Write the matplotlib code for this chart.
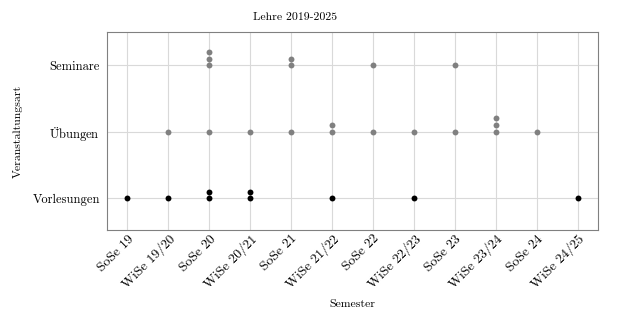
import matplotlib
matplotlib.use("Agg")
import matplotlib.pyplot as plt
import numpy as np

plt.rcParams["font.family"] = ["cmr10", "DejaVu Serif"]
plt.rcParams["mathtext.fontset"] = "cm"
plt.rcParams["axes.formatter.use_mathtext"] = True

semester = ["SoSe 19", "WiSe 19/20", "SoSe 20", "WiSe 20/21", "SoSe 21", "WiSe 21/22",
            "SoSe 22", "WiSe 22/23", "SoSe 23", "WiSe 23/24", "SoSe 24", "WiSe 24/25"]
arten = ["Vorlesungen", r"$\ddot{\mathrm{U}}$bungen", "Seminare"]

# number of courses per semester
vorlesungen = [1, 1, 2, 2, 0, 1, 0, 1, 0, 0, 0, 1]
uebungen = [0, 1, 1, 1, 1, 2, 1, 1, 1, 3, 1, 0]
seminare = [0, 0, 3, 0, 2, 0, 1, 0, 1, 0, 0, 0]

counts = [vorlesungen, uebungen, seminare]
colors = ["black", "#808080", "#808080"]
step = 0.1

fig = plt.figure(figsize=(6.24, 3.31), dpi=100)
ax = fig.add_axes([0.1715, 0.305, 0.787, 0.598])

for yi, (cnt, col) in enumerate(zip(counts, colors)):
    xs, ys = [], []
    for xi, n in enumerate(cnt):
        for k in range(n):
            xs.append(xi)
            ys.append(yi + k * step)
    ax.scatter(xs, ys, s=18, color=col, zorder=3, linewidths=0)

ax.set_xticks(range(len(semester)))
ax.set_xticklabels(semester, rotation=45, ha="right", rotation_mode="anchor", fontsize=9.7)
ax.set_yticks(range(len(arten)))
ax.set_yticklabels(arten, fontsize=9)
ax.set_xlim(-0.5, len(semester) - 0.5)
ax.set_ylim(-0.48, 2.5)
ax.grid(True, color="#d9d9d9", linewidth=0.8)
ax.set_axisbelow(True)
ax.tick_params(axis="y", length=0, pad=5)
ax.tick_params(axis="x", length=0, pad=2)
for sp in ax.spines.values():
    sp.set_color("#808080")
    sp.set_linewidth(0.8)

fig.text(295 / 624, 1 - 17 / 331, "Lehre 2019-2025", fontsize=8.5, ha="center", va="center")
ax.set_xlabel("Semester", fontsize=8.5, labelpad=6)
ax.set_ylabel("Veranstaltungsart", fontsize=8.5, labelpad=7)

fig.savefig("out.png", dpi=100)
